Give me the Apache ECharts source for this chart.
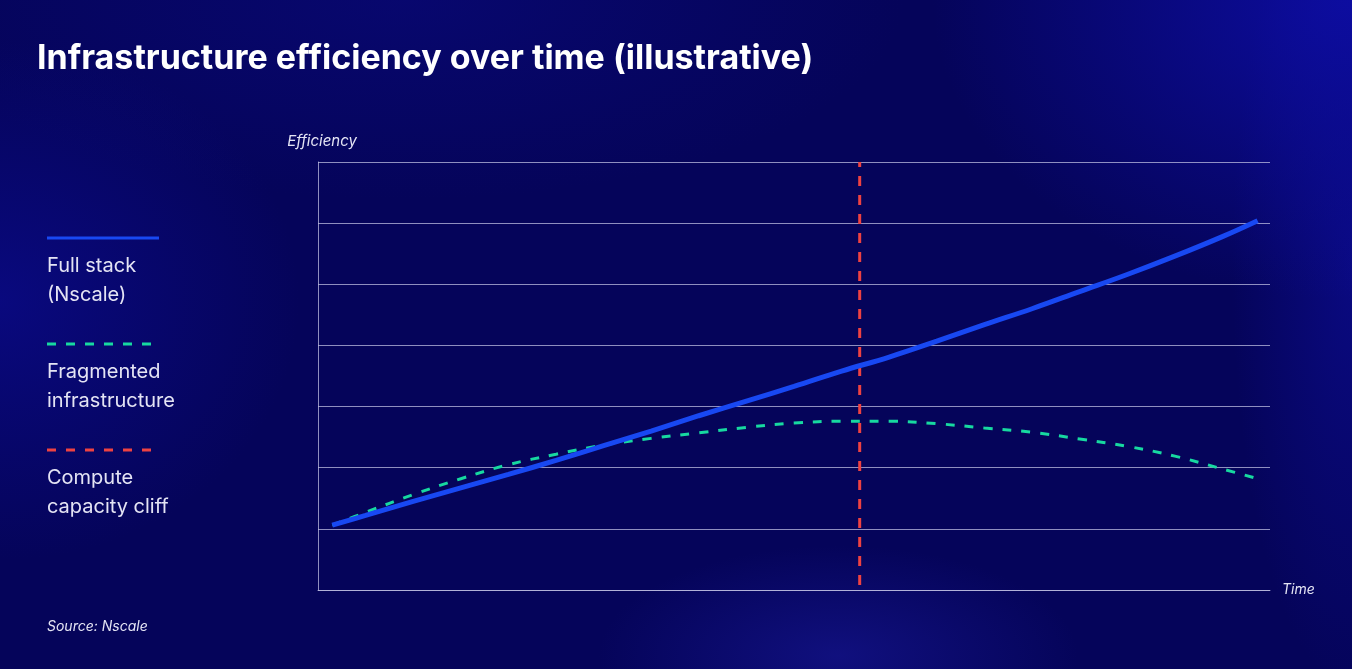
<!DOCTYPE html>
<html>
<head>
<meta charset="utf-8">
<script src="https://cdn.jsdelivr.net/npm/echarts@6/dist/echarts.min.js"></script>
<style>
html,body{margin:0;padding:0;width:1352px;height:669px;overflow:hidden;}
body{
  background:
    radial-gradient(ellipse 420px 300px at 100% 0%, rgba(14,14,170,0.85) 0%, rgba(14,14,170,0) 100%),
    radial-gradient(ellipse 120px 420px at 100% 40%, rgba(14,14,160,0.55) 0%, rgba(14,14,160,0) 100%),
    radial-gradient(ellipse 300px 260px at 0% 45%, rgba(12,12,150,0.6) 0%, rgba(12,12,150,0) 100%),
    radial-gradient(ellipse 240px 110px at 62% 98%, rgba(30,30,170,0.45) 0%, rgba(30,30,170,0) 100%),
    radial-gradient(ellipse 500px 200px at 30% 0%, rgba(10,10,130,0.5) 0%, rgba(10,10,130,0) 100%),
    #05045a;
}
#chart{width:1352px;height:669px;}
</style>
</head>
<body>
<div id="chart"></div>
<script>
// ---- data ----
const timePoints = [1.5, 5, 10, 15, 20, 25, 30, 35, 40, 45, 50, 55, 60, 65, 70, 75, 80, 85, 90, 95, 98.7];
const fullStack = [1.06, 1.22, 1.45, 1.67, 1.89, 2.12, 2.36, 2.60, 2.85, 3.09, 3.33, 3.58, 3.81, 4.07, 4.34, 4.60, 4.88, 5.16, 5.46, 5.78, 6.04];
const fragmented = [1.06, 1.27, 1.56, 1.82, 2.05, 2.22, 2.37, 2.48, 2.57, 2.66, 2.73, 2.76, 2.76, 2.72, 2.65, 2.58, 2.47, 2.35, 2.19, 1.98, 1.82];
const cliffTime = [56.9, 56.9];
const cliffValues = [0.08, 7];
const seriesNames = ['Full stack\n(Nscale)', 'Fragmented\ninfrastructure', 'Compute\ncapacity cliff'];
const yTicks = [0, 1, 2, 3, 4, 5, 6, 7];

const zip = (xs, ys) => xs.map((x, i) => [x, ys[i]]);

const textColor = '#e4e4f4';
const gridColor = 'rgba(190,190,225,0.75)';
const colors = ['#1848f2', '#17d9a0', '#ee4242'];

const chart = echarts.init(document.getElementById('chart'), null, {renderer: 'canvas'});

function legendItem(idx, y, dash) {
  const lines = seriesNames[idx].split('\n');
  const els = [{
    type: 'line',
    shape: {x1: 47, y1: y, x2: 159, y2: y},
    style: {stroke: colors[idx], lineWidth: 3, lineDash: dash}
  }];
  lines.forEach((t, i) => {
    els.push({
      type: 'text', x: 47, y: y + 28 + i * 29,
      style: {text: t, fill: textColor, font: '400 20px Inter, "Noto Sans", sans-serif', textVerticalAlign: 'middle'}
    });
  });
  return els;
}

chart.setOption({
  backgroundColor: 'transparent',
  animation: false,
  title: {
    text: 'Infrastructure efficiency over time (illustrative)',
    left: 32, top: 37,
    textStyle: {color: '#ffffff', fontSize: 34, fontWeight: 700, fontFamily: 'Inter, "Noto Sans", sans-serif'}
  },
  grid: {left: 318, right: 82, top: 162, bottom: 79, containLabel: false},
  xAxis: {
    type: 'value', min: 0, max: 100,
    name: 'Time', nameLocation: 'end', nameGap: 12,
    nameTextStyle: {color: textColor, fontSize: 14, fontStyle: 'italic', fontFamily: 'Inter, "Noto Sans", sans-serif'},
    axisLine: {show: true, lineStyle: {color: gridColor, width: 1}},
    axisTick: {show: false}, axisLabel: {show: false}, splitLine: {show: false}
  },
  yAxis: {
    type: 'value', min: yTicks[0], max: yTicks[yTicks.length - 1], interval: 1,
    name: 'Efficiency', nameLocation: 'end', nameGap: 13,
    nameTextStyle: {color: textColor, fontSize: 15, fontStyle: 'italic', fontFamily: 'Inter, "Noto Sans", sans-serif', padding: [0, 0, 0, 8]},
    axisLine: {show: true, lineStyle: {color: gridColor, width: 1}},
    axisTick: {show: false}, axisLabel: {show: false},
    splitLine: {show: true, lineStyle: {color: gridColor, width: 1}}
  },
  graphic: [
    ...legendItem(0, 238, null),
    ...legendItem(1, 344, [9, 10]),
    ...legendItem(2, 450, [9, 10]),
    {
      type: 'text', left: 47, top: 620,
      style: {text: 'Source: Nscale', fill: textColor, font: 'italic 400 14px Inter, "Noto Sans", sans-serif'}
    }
  ],
  series: [
    {
      name: seriesNames[2], type: 'line', data: zip(cliffTime, cliffValues),
      symbol: 'none', z: 1,
      lineStyle: {color: colors[2], width: 3, type: [10, 9]}
    },
    {
      name: seriesNames[1], type: 'line', data: zip(timePoints, fragmented),
      symbol: 'none', smooth: 0.4, z: 2,
      lineStyle: {color: colors[1], width: 3, type: [9, 10]}
    },
    {
      name: seriesNames[0], type: 'line', data: zip(timePoints, fullStack),
      symbol: 'none', smooth: 0.4, z: 3,
      lineStyle: {color: colors[0], width: 5, cap: 'butt'}
    }
  ]
});
</script>
</body>
</html>
